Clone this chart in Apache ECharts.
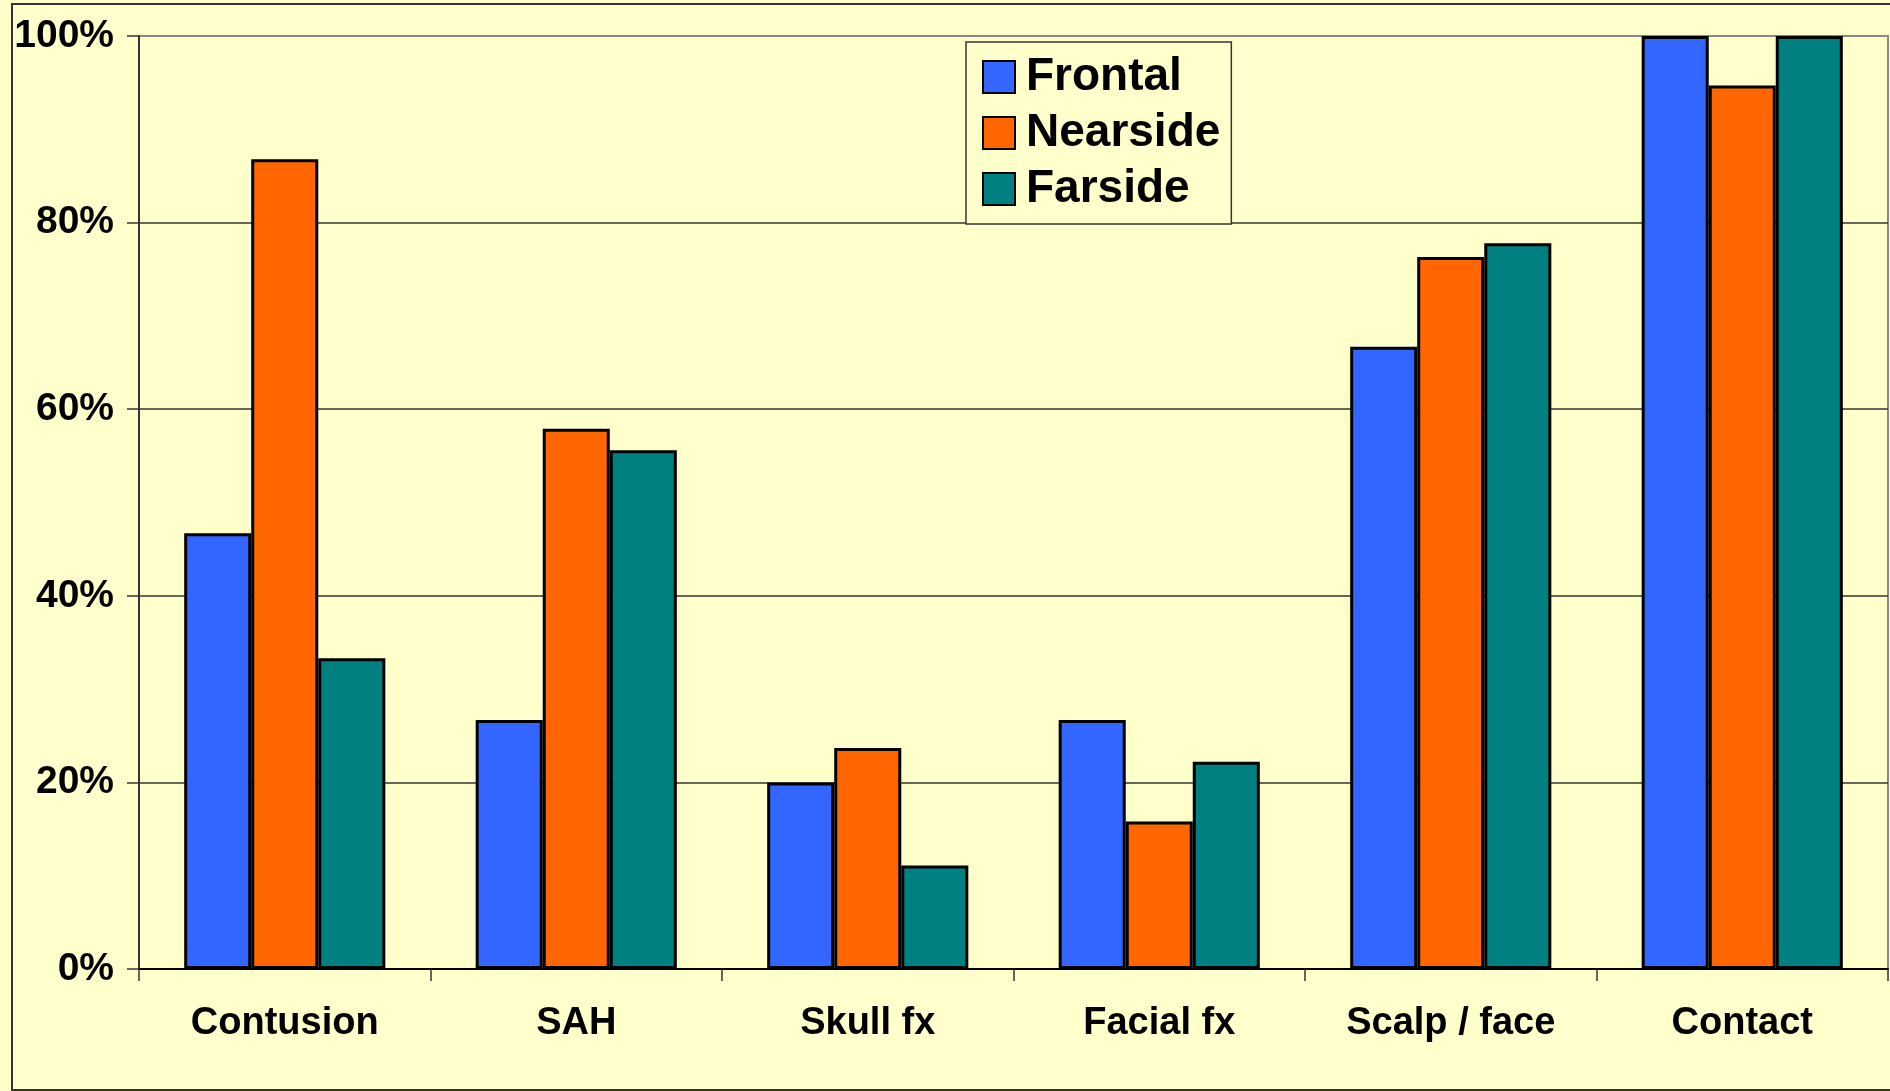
<!DOCTYPE html>
<html>
<head>
<meta charset="utf-8">
<title>Head injury by crash direction</title>
<script src="https://cdn.jsdelivr.net/npm/echarts@6/dist/echarts.min.js"></script>
<style>
  html, body { margin: 0; padding: 0; background: #FFFFCC; }
  #chart { width: 1890px; height: 1091px; }
</style>
</head>
<body>
<div id="chart"></div>
<script>
// Injury categories along the x axis
const categories = ['Contusion', 'SAH', 'Skull fx', 'Facial fx', 'Scalp / face', 'Contact'];

// Share of cases (%) per crash direction
const frontal  = [46.7, 26.7, 20.0, 26.7, 66.7, 100];
const nearside = [86.8, 57.9, 23.7, 15.8, 76.3, 94.7];
const farside  = [33.3, 55.6, 11.1, 22.2, 77.8, 100];

const seriesNames = ['Frontal', 'Nearside', 'Farside'];
const seriesColors = ['#3366FF', '#FF6600', '#008080'];

// Y axis range and step (percent)
const yMin = 0, yMax = 100, yStep = 20;

const font = '"Liberation Sans", Arial, sans-serif';

const chart = echarts.init(document.getElementById('chart'), null, { renderer: 'canvas' });

const barSeries = [frontal, nearside, farside].map((data, i) => ({
  name: seriesNames[i],
  type: 'bar',
  data: data,
  barGap: '0%',
  barCategoryGap: '31%',
  itemStyle: { color: seriesColors[i], borderColor: '#000', borderWidth: 3 },
  emphasis: { disabled: true }
}));

chart.setOption({
  backgroundColor: '#FFFFCC',
  animation: false,
  textStyle: { fontFamily: font },
  graphic: [{
    type: 'rect',
    z: 100,
    silent: true,
    shape: { x: 12, y: 4, width: 1900, height: 1086 },
    style: { fill: null, stroke: '#333', lineWidth: 2 }
  }],
  grid: {
    left: 139, top: 36, right: 2, bottom: 122,
    show: true,
    backgroundColor: '#FFFFCC',
    borderColor: '#888',
    borderWidth: 2
  },
  legend: {
    orient: 'vertical',
    left: 966,
    top: 42,
    padding: [12, 11, 12, 16],
    backgroundColor: '#FFFFCC',
    borderColor: '#333',
    borderWidth: 1.5,
    itemWidth: 32,
    itemHeight: 32,
    itemGap: 10,
    selectedMode: false,
    icon: 'rect',
    data: seriesNames,
    textStyle: {
      fontFamily: font,
      fontWeight: 'bold',
      fontSize: 46,
      lineHeight: 46,
      color: '#000',
      padding: [0, 0, 0, 6]
    }
  },
  xAxis: {
    type: 'category',
    data: categories,
    boundaryGap: true,
    axisLine: { show: true, lineStyle: { color: '#000', width: 2 } },
    axisTick: { show: true, length: 12, lineStyle: { color: '#333', width: 1.5 } },
    axisLabel: {
      margin: 36,
      fontFamily: font,
      fontWeight: 'bold',
      fontSize: 38,
      color: '#000',
      interval: 0
    },
    splitLine: { show: false }
  },
  yAxis: {
    type: 'value',
    min: yMin,
    max: yMax,
    interval: yStep,
    axisLine: { show: true, lineStyle: { color: '#333', width: 2 } },
    axisTick: { show: true, length: 12, lineStyle: { color: '#333', width: 1.5 } },
    axisLabel: {
      margin: 25,
      formatter: '{value}%',
      fontFamily: font,
      fontWeight: 'bold',
      fontSize: 39,
      color: '#000'
    },
    splitLine: {
      show: true,
      showMaxLine: false,
      lineStyle: { color: '#333', width: 1.5 }
    }
  },
  series: barSeries
});
</script>
</body>
</html>
